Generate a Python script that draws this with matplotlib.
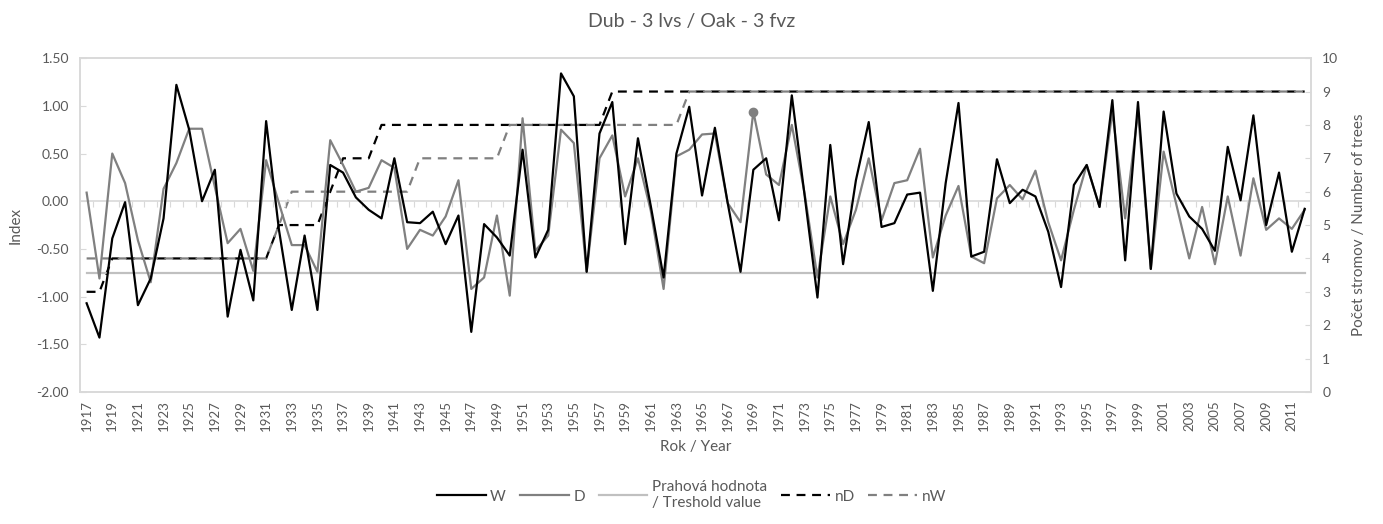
import matplotlib.pyplot as plt
import numpy as np

plt.rcParams['font.family'] = ['Lato', 'DejaVu Sans']

years = list(range(1917, 2013))

w_index = [
    -1.07, -1.43, -0.39, -0.01, -1.09, -0.81, -0.18, 1.22, 0.75, 0.00,
    0.33, -1.21, -0.51, -1.04, 0.84, -0.30, -1.14, -0.36, -1.14, 0.38,
    0.30, 0.04, -0.09, -0.18, 0.45, -0.22, -0.23, -0.11, -0.45, -0.15,
    -1.37, -0.24, -0.38, -0.57, 0.54, -0.59, -0.30, 1.34, 1.10, -0.74,
    0.71, 1.04, -0.45, 0.66, -0.05, -0.80, 0.50, 0.99, 0.06, 0.77,
    -0.02, -0.74, 0.33, 0.45, -0.20, 1.11, 0.06, -1.01, 0.59, -0.66,
    0.22, 0.83, -0.27, -0.23, 0.07, 0.09, -0.94, 0.19, 1.03, -0.58,
    -0.53, 0.44, -0.02, 0.12, 0.05, -0.32, -0.90, 0.17, 0.38, -0.06,
    1.06, -0.62, 1.04, -0.71, 0.94, 0.08, -0.16, -0.29, -0.52, 0.57,
    0.01, 0.90, -0.25, 0.30, -0.53, -0.08,
]

d_index = [
    0.09, -0.81, 0.50, 0.19, -0.41, -0.85, 0.13, 0.40, 0.76, 0.76,
    0.15, -0.44, -0.29, -0.73, 0.43, -0.02, -0.46, -0.46, -0.74, 0.64,
    0.38, 0.10, 0.14, 0.43, 0.35, -0.50, -0.30, -0.36, -0.16, 0.22,
    -0.92, -0.80, -0.15, -0.99, 0.87, -0.52, -0.36, 0.75, 0.61, -0.74,
    0.45, 0.69, 0.05, 0.45, -0.10, -0.92, 0.47, 0.54, 0.70, 0.71,
    -0.02, -0.22, 0.94, 0.28, 0.17, 0.80, 0.08, -0.80, 0.05, -0.45,
    -0.09, 0.45, -0.20, 0.19, 0.22, 0.55, -0.59, -0.15, 0.16, -0.58,
    -0.65, 0.03, 0.17, 0.02, 0.32, -0.22, -0.62, -0.09, 0.38, -0.06,
    0.94, -0.18, 0.94, -0.71, 0.52, -0.04, -0.60, -0.06, -0.66, 0.05,
    -0.57, 0.24, -0.30, -0.18, -0.29, -0.09,
]

threshold = -0.75

n_d = [3, 3] + [4] * 13 + [5] * 4 + [6] + [7] * 3 + [8] * 18 + [9] * 55
n_w = [4] * 15 + [5] + [6] * 10 + [7] * 7 + [8] * 14 + [9] * 49

marked_year = 1969

txt = '#595959'
frame = '#D9D9D9'

fig = plt.figure(figsize=(13.83, 5.24), dpi=100)
ax = fig.add_axes([0.058, 0.252, 0.89, 0.637])
ax2 = ax.twinx()

l_w, = ax.plot(years, w_index, color='black', lw=1.6, label='W', zorder=4)
l_d, = ax.plot(years, d_index, color='#808080', lw=1.6, label='D', zorder=3)
mi = years.index(marked_year)
ax.plot(years[mi], d_index[mi], 'o', color='#808080', ms=6, zorder=3)
l_t, = ax.plot(years, [threshold] * len(years), color='#C0C0C0', lw=1.6,
               label='Prahová hodnota\n/ Treshold value', zorder=2)
l_nd, = ax2.plot(years, n_d, color='black', lw=1.6, ls=(0, (4, 3)), label='nD')
l_nw, = ax2.plot(years, n_w, color='#808080', lw=1.6, ls=(0, (4, 3)), label='nW')

ax.set_zorder(ax2.get_zorder() + 1)
ax.patch.set_visible(False)

ax.set_xlim(1916.5, 2012.5)
ax.set_ylim(-2.0, 1.5)
ax2.set_ylim(0, 10)

ax.axhline(0, color=frame, lw=1.2, zorder=1)
# small tick marks on the zero axis, between categories
sec = ax.secondary_xaxis(2.0 / 3.5)
sec.set_xticks(np.arange(1917.5, 2012, 1))
sec.set_xticklabels([])
sec.xaxis.set_ticks_position('bottom')
sec.tick_params(axis='x', direction='out', length=4, color=frame,
                labelbottom=False, labeltop=False)
for s in sec.spines.values():
    s.set_visible(False)

ax.set_xticks(years[::2])
ax.set_xticklabels([str(y) for y in years[::2]], rotation=90, fontsize=9.5, color=txt)
ax.tick_params(axis='x', length=0, pad=6)

ax.set_yticks(np.arange(-2.0, 1.51, 0.5))
ax.set_yticklabels(['%.2f' % v for v in np.arange(-2.0, 1.51, 0.5)], fontsize=10, color=txt)
ax.tick_params(axis='y', direction='in', length=4, color=frame, pad=8)

ax2.set_yticks(range(0, 11))
ax2.tick_params(axis='y', direction='in', length=4, color=frame, labelsize=10,
                labelcolor=txt, pad=8)

for a in (ax, ax2):
    for s in a.spines.values():
        s.set_color(frame)
        s.set_linewidth(1.2)

ax.set_ylabel('Index', fontsize=11, color=txt, labelpad=10)
ax2.set_ylabel('Počet stromov / Number of trees', fontsize=11, color=txt, labelpad=10)
ax.set_xlabel('Rok / Year', fontsize=11, color=txt, labelpad=6)
fig.suptitle('Dub - 3 lvs / Oak - 3 fvz', fontsize=14, color=txt, y=0.975)

leg = fig.legend(handles=[l_w, l_d, l_t, l_nd, l_nw], loc='lower center',
                 bbox_to_anchor=(0.5, 0.0), ncol=5, frameon=False, fontsize=11,
                 handlelength=3.2, handletextpad=0.3, columnspacing=0.9)
for t in leg.get_texts():
    t.set_color(txt)

fig.savefig('out.png', dpi=100)
